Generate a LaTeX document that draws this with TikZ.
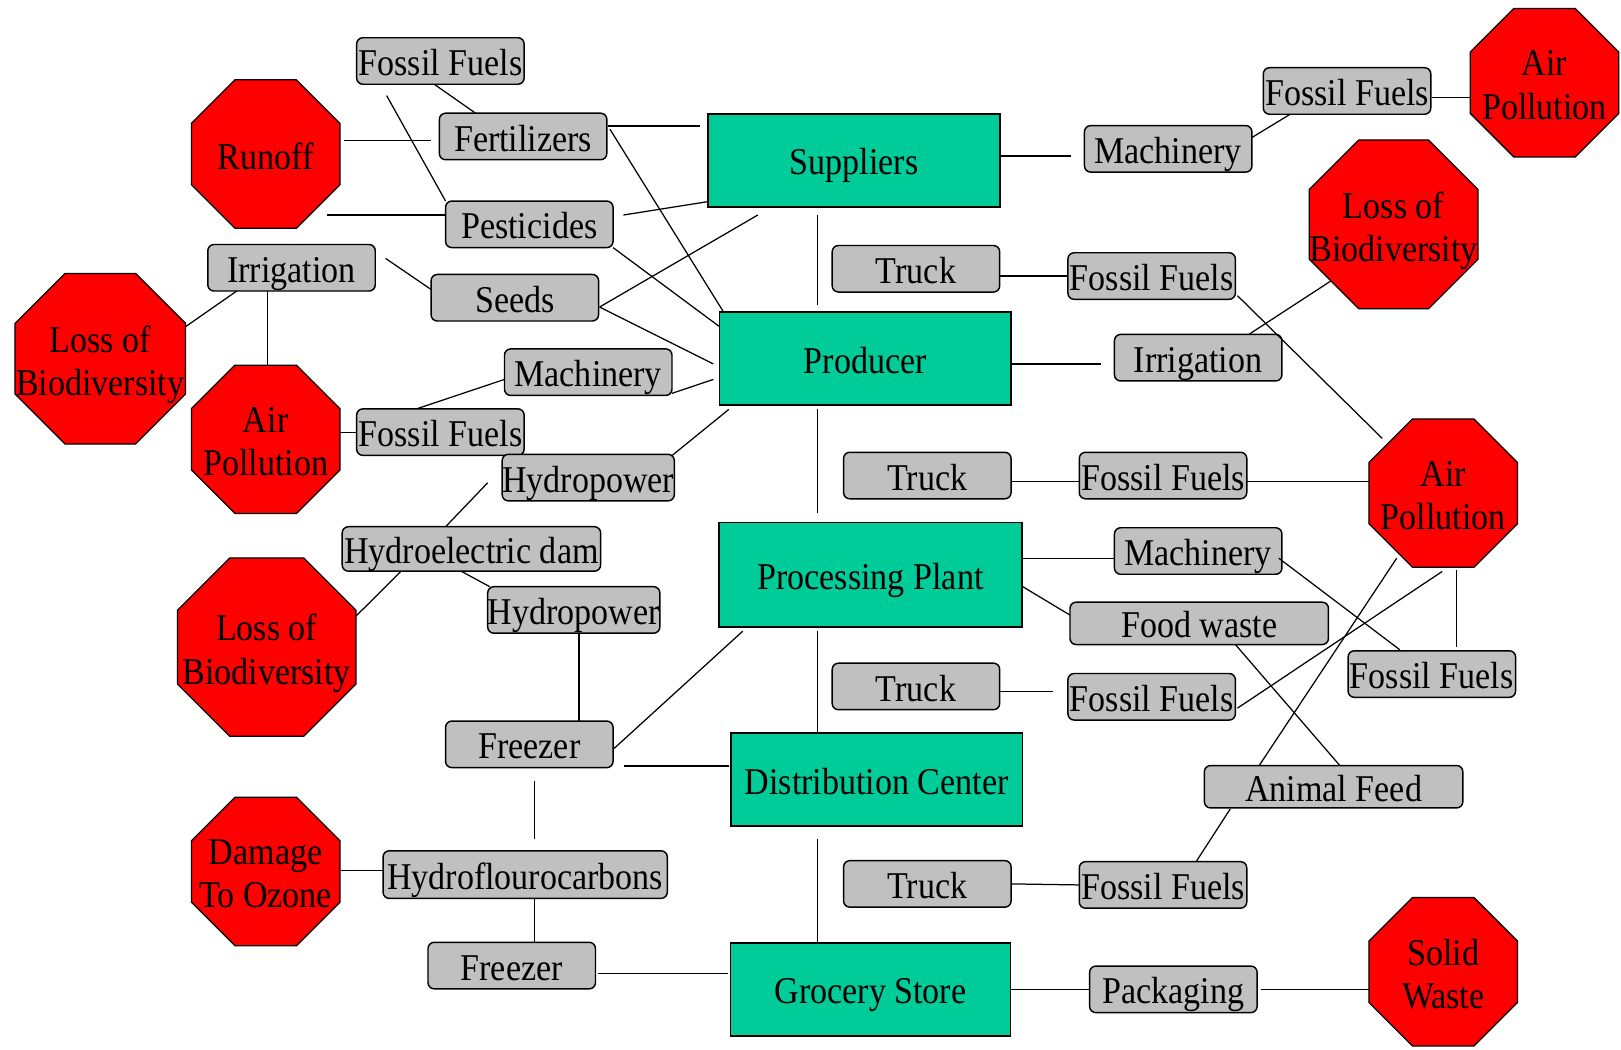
\documentclass[tikz,border=0pt]{standalone}
\usepackage{fontspec}
\setmainfont{Liberation Serif}[FakeStretch=0.9]
\usetikzlibrary{shapes.geometric,calc}
\definecolor{stagegreen}{HTML}{00CC99}
\definecolor{inputgrey}{HTML}{C0C0C0}
\definecolor{harmred}{HTML}{FF0000}

\begin{document}
\begin{tikzpicture}[
  x=0.5pt, y=-0.5pt,
  font=\fontsize{18.3}{21}\selectfont,
  stage/.style={
    draw=black, line width=0.8pt, fill=stagegreen,
    minimum width=141pt, minimum height=45pt, inner sep=0pt, outer sep=0pt,
    text height=14.1pt, text depth=0pt},
  input/.style={
    draw=black, line width=0.7pt, fill=inputgrey, rounded corners=3pt,
    minimum width=81pt, minimum height=22.5pt, inner sep=0pt, outer sep=0pt,
    text height=14.1pt, text depth=0pt},
  harm/.style={
    draw=black, line width=0.6pt, fill=harmred,
    regular polygon, regular polygon sides=8,
    minimum size=77.7pt, inner sep=0pt, outer sep=0pt},
  harmtext/.style={align=center, inner sep=0pt, text depth=0pt, yshift=-1pt},
  link/.style={black, line width=0.6pt},
]
\useasboundingbox (0,0) rectangle (1568,1015);

% ================= supply chain stages =============================
\node[stage] (suppliers) at (826,155) {Suppliers};
\node[stage] (producer)  at (837,347) {Producer};
\node[stage, minimum width=146.5pt, minimum height=50.5pt] (proc) at (842,556) {Processing Plant};
\node[stage] (dist)      at (848,754) {Distribution Center};
\node[stage, minimum width=135.5pt] (grocery) at (842,957) {Grocery Store};

% ================= inputs, left side ===============================
\node[input] (ffTop)  at (426,59)  {Fossil Fuels};
\node[input] (fert)   at (506,132) {Fertilizers};
\node[input] (pest)   at (512,217) {Pesticides};
\node[input] (irrL)   at (282,259) {Irrigation};
\node[input] (seeds)  at (498,288) {Seeds};
\node[input] (machL)  at (569,360) {Machinery};
\node[input] (ffL)    at (426,418) {Fossil Fuels};
\node[input] (hydroA) at (569,462) {Hydropower};
\node[input, minimum width=125pt, minimum height=21.5pt] (dam) at (456,531) {Hydroelectric dam};
\node[input] (hydroB) at (555,590) {Hydropower};
\node[input] (frzA)   at (512,720) {Freezer};
\node[input, minimum width=137.5pt, minimum height=23pt] (hfc) at (508,846) {Hydroflourocarbons};
\node[input] (frzB)   at (495,934) {Freezer};

% ================= inputs, right side ==============================
\node[input] (machR)  at (1130,144) {Machinery};
\node[input] (ffTR)   at (1303,88)  {Fossil Fuels};
\node[input] (truckA) at (886,260)  {Truck};
\node[input] (ffA)    at (1114,267) {Fossil Fuels};
\node[input] (irrR)   at (1159,346) {Irrigation};
\node[input] (truckB) at (897,460)  {Truck};
\node[input] (ffB)    at (1125,460) {Fossil Fuels};
\node[input] (machP)  at (1159,533) {Machinery};
\node[input, minimum width=125pt, minimum height=20.5pt] (food) at (1160,603) {Food waste};
\node[input] (ffR)    at (1385,652) {Fossil Fuels};
\node[input] (truckC) at (886,664)  {Truck};
\node[input] (ffC)    at (1114,674) {Fossil Fuels};
\node[input, minimum width=125pt, minimum height=20.5pt] (animal) at (1290,761) {Animal Feed};
\node[input] (truckD) at (897,855)  {Truck};
\node[input] (ffD)    at (1125,856) {Fossil Fuels};
\node[input] (pack)   at (1135,957) {Packaging};

% ================= impacts =========================================
\node[harm, label={[harmtext]center:Runoff}] (runoff) at (257,149) {};
\node[harm, minimum size=89.3pt, label={[harmtext]center:Loss of\\Biodiversity}] (lobL) at (97,347) {};
\node[harm, label={[harmtext]center:Air\\Pollution}] (apL) at (257,425) {};
\node[harm, minimum size=93.4pt, label={[harmtext]center:Loss of\\Biodiversity}] (lobB) at (258,626) {};
\node[harm, label={[harmtext]center:Damage\\To Ozone}] (ozone) at (257,843) {};
\node[harm, label={[harmtext]center:Air\\Pollution}] (apTR) at (1494,80) {};
\node[harm, minimum size=88.3pt, label={[harmtext]center:Loss of\\Biodiversity}] (lobR) at (1348,217) {};
\node[harm, label={[harmtext]center:Air\\Pollution}] (apM) at (1396,477) {};
\node[harm, label={[harmtext]center:Solid\\Waste}] (solid) at (1396,940) {};

% ================= links, left side ================================
\draw[link] ($(ffTop.south)+(-6,0)$) -- ($(fert.north)+(-46,0)$);
\draw[link] ($(ffTop.south)+(-52,11)$) -- (pest.north west);
\draw[link] ($(runoff.east)+(4,-13)$) -- ($(fert.west)+(-8,4)$);
\draw[link] ($(runoff.center)+(59,59)$) -- ($(pest.west)+(0,-9)$);
\draw[link] ($(fert.east)+(1,-10)$) -- ($(suppliers.west)+(-8,-33)$);
\draw[link] ($(fert.east)+(3,-7)$) -- ($(producer.north west)+(4,0)$);
\draw[link] ($(pest.east)+(10,-9)$) -- ($(suppliers.south west)+(0,-5)$);
\draw[link] (pest.south east) -- ($(producer.west)+(0,-31)$);
\draw[link] ($(seeds.east)+(1,9)$) -- ($(suppliers.south)+(-93,8)$);
\draw[link] ($(seeds.east)+(1,9)$) -- ($(producer.west)+(-6,5)$);
\draw[link] ($(irrL.east)+(10,-9)$) -- ($(seeds.west)+(0,-8)$);
\draw[link] ($(irrL.south)+(-53,0)$) -- ($(lobL.east)+(0,-31)$);
\draw[link] ($(irrL.south)+(-23,0)$) -- ($(apL.north)+(2,0)$);
\draw[link] ($(machL.south east)+(0,-2)$) -- ($(producer.west)+(-6,20)$);
\draw[link] ($(machL.west)+(0,7)$) -- ($(ffL.north)+(-23,0)$);
\draw[link] (ffL.west) -- (ffL.west -| apL.east);
\draw[link] ($(hydroA.north east)+(-2,1)$) -- ($(producer.south west)+(9,4)$);
\draw[link] ($(hydroA.west)+(-14,5)$) -- ($(dam.north)+(-25,0)$);
\draw[link] ($(dam.south)+(-68,0)$) -- ($(lobB.east)+(0,-30)$);
\draw[link] ($(dam.south)+(-10,0)$) -- ($(hydroB.north west)+(2,0)$);
\draw[link] ($(hydroB.south)+(5,0)$) -- ($(frzA.north)+(48,0)$);
\draw[link] ($(frzA.east)+(1,4)$) -- ($(proc.south west)+(23,4)$);
\draw[link] ($(frzA.east)+(11,21)$) -- ($(dist.west)+(-2,-13)$);
\draw[link] ($(frzA.south)+(5,13)$) -- ($(hfc.north)+(9,-11)$);
\draw[link] ($(ozone.east)+(1,-1)$) -- ($(hfc.west)+(0,-4)$);
\draw[link] ($(hfc.south)+(9,0)$) -- ($(frzB.north)+(22,0)$);
\draw[link] ($(frzB.east)+(2,8)$) -- ($(grocery.west)+(-2,-15)$);

% ================= the chain itself ================================
\draw[link] ($(suppliers.south)+(-35,8)$) -- ($(producer.north)+(-46,-7)$);
\draw[link] ($(producer.south)+(-46,4)$) -- ($(proc.north)+(-51,-9)$);
\draw[link] ($(proc.south)+(-51,4)$) -- ($(dist.north)+(-57,0)$);
\draw[link] ($(dist.south)+(-57,13)$) -- ($(grocery.north)+(-51,0)$);

% ================= links, right side ===============================
\draw[link] ($(suppliers.east)+(0,-4)$) -- ($(machR.west)+(-13,7)$);
\draw[link] ($(machR.east)+(0,-11)$) -- ($(ffTR.south)+(-55,0)$);
\draw[link] ($(ffTR.east)+(1,6)$) -- ($(apTR.west)+(0,14)$);
\draw[link] (ffA.west) -- (ffA.west -| truckA.east);
\draw[link] ($(ffA.east)+(2,19)$) -- ($(apM.center)+(-59,-53)$);
\draw[link] ($(producer.east)+(0,5)$) -- ($(irrR.west)+(-13,6)$);
\draw[link] ($(irrR.north)+(49,0)$) -- ($(lobR.center)+(-61,55)$);
\draw[link] ($(truckB.east)+(0,6)$) -- ($(ffB.west)+(0,6)$);
\draw[link] ($(ffB.east)+(0,6)$) -- ($(apM.west)+(0,-11)$);
\draw[link] ($(proc.east)+(0,-16)$) -- ($(machP.west)+(0,7)$);
\draw[link] ($(proc.east)+(0,11)$) -- ($(food.west)+(0,-8)$);
\draw[link] ($(machP.east)+(-3,7)$) -- ($(ffR.north)+(-31,-1)$);
\draw[link] ($(apM.south)+(13,3)$) -- ($(ffR.north)+(24,-4)$);
\draw[link] ($(truckC.east)+(0,5)$) -- ($(ffC.west)+(-14,-5)$);
\draw[link] ($(ffC.east)+(2,11)$) -- ($(apM.south)+(-1,4)$);
\draw[link] ($(food.south)+(35,0)$) -- ($(animal.north)+(6,0)$);
\draw[link] ($(animal.north)+(-72,0)$) -- ($(apM.center)+(-45,63)$);
\draw[link] ($(animal.south)+(-100,1)$) -- ($(ffD.north)+(32,0)$);
\draw[link] (truckD.east) -- (ffD.west);
\draw[link] (grocery.east) -- (pack.west);
\draw[link] ($(pack.east)+(4,0)$) -- ($(solid.west)+(0,17)$);

\end{tikzpicture}
\end{document}
